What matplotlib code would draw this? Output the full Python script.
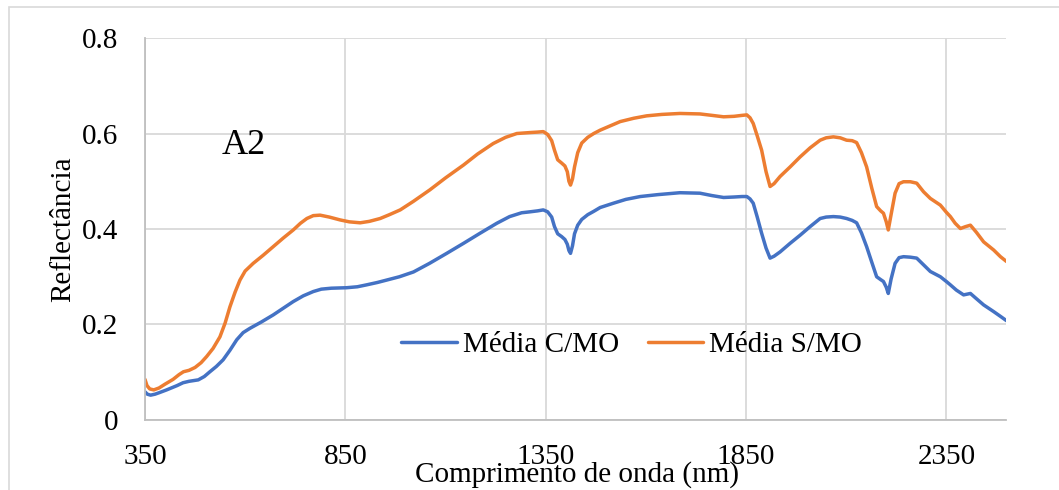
import matplotlib

matplotlib.use("Agg")
import matplotlib.pyplot as plt
from matplotlib.patches import Rectangle

plt.rcParams["font.family"] = ["Liberation Serif", "DejaVu Serif"]

# wavelengths (nm) and reflectance
wl_com = [350, 356, 364, 375, 385, 404, 430, 445, 460, 483,
          498, 512, 528, 545, 562, 579, 595, 612, 640, 670,
          695, 720, 745, 770, 790, 815, 853, 880, 903, 930,
          953, 985, 1020, 1060, 1103, 1145, 1186, 1228, 1260, 1290,
          1311, 1330, 1344, 1355, 1365, 1372, 1380, 1390, 1398, 1404,
          1408, 1412, 1417, 1422, 1430, 1440, 1455, 1470, 1486, 1519,
          1550, 1586, 1630, 1685, 1735, 1765, 1794, 1820, 1840, 1852,
          1860, 1868, 1878, 1889, 1900, 1910, 1920, 1935, 1960, 1985,
          2010, 2035, 2050, 2068, 2085, 2101, 2115, 2126, 2138, 2151,
          2164, 2176, 2186, 2193, 2200, 2205, 2212, 2222, 2232, 2243,
          2260, 2276, 2293, 2310, 2335, 2350, 2360, 2375, 2393, 2410,
          2425, 2443, 2468, 2485, 2500]
ref_com = [0.059, 0.054, 0.052, 0.054, 0.057, 0.063, 0.072, 0.078, 0.081, 0.084,
           0.091, 0.101, 0.112, 0.126, 0.146, 0.168, 0.183, 0.192, 0.205, 0.220,
           0.234, 0.248, 0.260, 0.269, 0.274, 0.276, 0.277, 0.279, 0.283, 0.288,
           0.293, 0.300, 0.310, 0.328, 0.349, 0.370, 0.391, 0.412, 0.426, 0.434,
           0.436, 0.438, 0.440, 0.436, 0.425, 0.405, 0.390, 0.384, 0.378, 0.368,
           0.355, 0.349, 0.365, 0.390, 0.408, 0.420, 0.430, 0.437, 0.445, 0.454,
           0.462, 0.468, 0.472, 0.476, 0.475, 0.470, 0.466, 0.467, 0.468, 0.468,
           0.463, 0.454, 0.425, 0.391, 0.360, 0.339, 0.343, 0.352, 0.370, 0.387,
           0.405, 0.422, 0.425, 0.426, 0.425, 0.422, 0.418, 0.413, 0.392, 0.363,
           0.330, 0.300, 0.294, 0.290, 0.278, 0.265, 0.295, 0.328, 0.340, 0.342,
           0.341, 0.339, 0.325, 0.311, 0.300, 0.290, 0.283, 0.272, 0.262, 0.265,
           0.254, 0.241, 0.227, 0.217, 0.208]

wl_sem = [350, 355, 362, 372, 385, 400, 420, 435, 446, 460,
          475, 490, 504, 520, 537, 550, 562, 575, 587, 600,
          620, 645, 670, 695, 720, 738, 754, 770, 787, 810,
          837, 860, 887, 910, 937, 960, 987, 1020, 1061, 1100,
          1145, 1180, 1219, 1250, 1278, 1311, 1330, 1344, 1355, 1365,
          1372, 1380, 1390, 1398, 1404, 1408, 1412, 1417, 1422, 1430,
          1440, 1455, 1470, 1486, 1536, 1570, 1602, 1640, 1685, 1735,
          1765, 1794, 1820, 1840, 1852, 1860, 1868, 1878, 1889, 1900,
          1910, 1920, 1935, 1960, 1985, 2010, 2035, 2050, 2068, 2085,
          2101, 2115, 2126, 2138, 2151, 2164, 2176, 2186, 2193, 2200,
          2205, 2212, 2222, 2232, 2243, 2260, 2276, 2293, 2310, 2335,
          2350, 2360, 2372, 2385, 2398, 2410, 2425, 2443, 2468, 2485,
          2500]
ref_sem = [0.085, 0.072, 0.065, 0.063, 0.067, 0.075, 0.085, 0.095, 0.101, 0.104,
           0.110, 0.120, 0.133, 0.150, 0.174, 0.203, 0.237, 0.268, 0.293, 0.312,
           0.328, 0.345, 0.363, 0.381, 0.398, 0.412, 0.422, 0.428, 0.429, 0.425,
           0.419, 0.415, 0.413, 0.416, 0.422, 0.430, 0.440, 0.458, 0.482, 0.507,
           0.534, 0.557, 0.579, 0.592, 0.600, 0.602, 0.603, 0.604, 0.598, 0.585,
           0.565, 0.545, 0.538, 0.532, 0.520, 0.500, 0.492, 0.505, 0.530, 0.560,
           0.580, 0.592, 0.600, 0.607, 0.625, 0.632, 0.637, 0.640, 0.642, 0.641,
           0.638, 0.635, 0.636, 0.638, 0.639, 0.633, 0.621, 0.595, 0.565, 0.520,
           0.489, 0.495, 0.510, 0.530, 0.551, 0.570, 0.586, 0.591, 0.593, 0.591,
           0.586, 0.585, 0.581, 0.560, 0.530, 0.485, 0.447, 0.438, 0.433, 0.415,
           0.398, 0.430, 0.475, 0.495, 0.499, 0.499, 0.496, 0.478, 0.464, 0.450,
           0.435, 0.426, 0.412, 0.401, 0.405, 0.408, 0.393, 0.373, 0.356, 0.342,
           0.332]

x_ticks = [350, 850, 1350, 1850, 2350]
y_ticks = [0, 0.2, 0.4, 0.6, 0.8]
y_labels = ["0", "0.2", "0.4", "0.6", "0.8"]

fig = plt.figure(figsize=(10.59, 4.9), dpi=100)
fig.patch.set_facecolor("#FFFFFF")
ax = fig.add_axes([0.1369, 0.1429, 0.8135, 0.7795])

# outer chart-area border (cropped in the reference)
fig.patches.append(Rectangle((9 / 1059, -0.2), 1.2, 1.2 - 7 / 490,
                             transform=fig.transFigure, fill=False,
                             edgecolor="#D9D9D9", lw=1.2))

ax.plot(wl_com, ref_com, color="#4472C4", lw=2.5, label="Média C/MO",
        solid_joinstyle="round", solid_capstyle="round")
ax.plot(wl_sem, ref_sem, color="#ED7D31", lw=2.5, label="Média S/MO",
        solid_joinstyle="round", solid_capstyle="round")

ax.set_xlim(350, 2500)
ax.set_ylim(0, 0.8)
ax.set_xticks(x_ticks)
ax.set_yticks(y_ticks)
ax.set_yticklabels(y_labels)
ax.grid(True, color="#D9D9D9", lw=1.3)
ax.set_axisbelow(True)
ax.tick_params(axis="both", length=0, labelsize=21, colors="#000000")
ax.tick_params(axis="x", pad=17)
ax.tick_params(axis="y", pad=19)

for side in ["top", "right"]:
    ax.spines[side].set_visible(False)
for side in ["left", "bottom"]:
    ax.spines[side].set_color("#BFBFBF")
    ax.spines[side].set_linewidth(1.3)

ax.set_ylabel("Reflectância", fontsize=21)
ax.yaxis.set_label_coords(-0.08, 0.5)
ax.set_xlabel("Comprimento de onda (nm)", fontsize=21)
ax.xaxis.set_label_coords(0.501, -0.108)

ax.text(542, 0.574, "A2", fontsize=26, ha="left", va="center")

ax.legend(loc="center", bbox_to_anchor=(0.565, 0.196), ncol=2, frameon=False,
          fontsize=21, handlelength=1.9, handletextpad=0.2, columnspacing=1.0)

plt.savefig("out.png", dpi=100)
plt.close()
